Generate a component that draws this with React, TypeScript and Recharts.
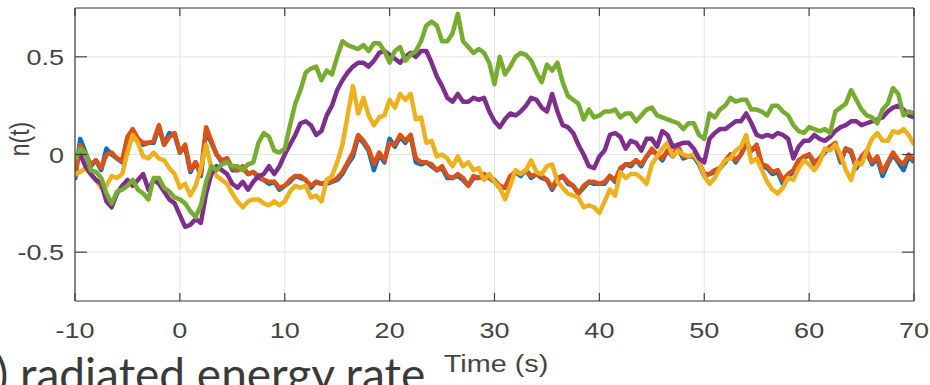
import { CartesianGrid, Line, LineChart, XAxis, YAxis } from "recharts";

// sample grid: -10 s .. 70 s, every 0.5 s
const times = Array.from({ length: 161 }, (_, i) => -10 + i * 0.5);

const xTicks = [-10, 0, 10, 20, 30, 40, 50, 60, 70];
const yTicks = [-0.5, 0, 0.5];

const blue = [
  -0.13, 0.08, 0.01, -0.06, -0.03, -0.08, 0.03, 0.0, -0.02, -0.04,
  0.08, 0.12, 0.08, 0.05, 0.06, 0.06, 0.14, 0.05, 0.11, 0.1,
  0.01, 0.04, -0.09, -0.04, -0.11, 0.12, 0.06, 0.0, -0.04, -0.02,
  -0.08, -0.08, -0.07, -0.1, -0.09, -0.12, -0.13, -0.15, -0.14, -0.18,
  -0.16, -0.14, -0.11, -0.12, -0.13, -0.17, -0.14, -0.15, -0.15, -0.14,
  -0.13, -0.1, -0.05, -0.01, 0.09, 0.06, 0.02, -0.08, 0.0, -0.04,
  0.08, 0.04, 0.09, 0.06, 0.1, -0.04, -0.05, -0.04, -0.06, -0.08,
  -0.07, -0.12, -0.12, -0.11, -0.13, -0.16, -0.12, -0.12, -0.11, -0.12,
  -0.14, -0.17, -0.17, -0.12, -0.09, -0.11, -0.08, -0.12, -0.1, -0.12,
  -0.13, -0.18, -0.13, -0.11, -0.15, -0.16, -0.2, -0.17, -0.14, -0.15,
  -0.15, -0.15, -0.11, -0.14, -0.08, -0.05, -0.06, -0.03, -0.06, -0.01,
  0.02, 0.0, -0.03, 0.02, -0.01, 0.03, -0.02, -0.01, -0.01, -0.05,
  -0.11, -0.1, -0.09, -0.07, -0.04, 0.0, -0.04, 0.0, 0.05, 0.02,
  0.04, -0.06, -0.07, -0.1, -0.09, -0.15, -0.11, -0.09, -0.03, -0.02,
  0.0, -0.05, -0.02, 0.01, 0.04, 0.05, -0.04, 0.03, 0.01, -0.07,
  -0.02, 0.01, -0.05, -0.02, -0.11, -0.05, 0.0, -0.04, -0.08, -0.01,
  -0.04,
];

const orange = [
  -0.12, 0.05, 0.0, -0.05, -0.03, -0.07, 0.0, 0.01, -0.02, -0.03,
  0.09, 0.13, 0.08, 0.06, 0.06, 0.07, 0.15, 0.05, 0.09, 0.11,
  0.01, 0.05, -0.08, -0.04, -0.1, 0.14, 0.07, 0.0, -0.03, -0.02,
  -0.07, -0.08, -0.06, -0.1, -0.09, -0.11, -0.13, -0.14, -0.14, -0.17,
  -0.16, -0.13, -0.11, -0.11, -0.13, -0.16, -0.14, -0.15, -0.14, -0.14,
  -0.12, -0.09, -0.04, 0.01, 0.1, 0.07, 0.03, -0.05, 0.01, -0.03,
  0.06, 0.05, 0.1, 0.07, 0.1, -0.02, -0.04, -0.04, -0.05, -0.08,
  -0.06, -0.11, -0.12, -0.1, -0.12, -0.16, -0.11, -0.12, -0.1, -0.12,
  -0.13, -0.16, -0.17, -0.11, -0.09, -0.1, -0.08, -0.11, -0.1, -0.11,
  -0.13, -0.17, -0.12, -0.11, -0.14, -0.16, -0.2, -0.16, -0.14, -0.14,
  -0.15, -0.14, -0.11, -0.13, -0.07, -0.05, -0.05, -0.03, -0.05, -0.01,
  0.03, 0.0, -0.02, 0.02, 0.0, 0.04, -0.01, -0.01, 0.0, -0.04,
  -0.1, -0.1, -0.08, -0.07, -0.03, 0.0, -0.03, 0.0, 0.06, 0.02,
  0.05, -0.05, -0.06, -0.09, -0.08, -0.13, -0.1, -0.08, -0.03, -0.01,
  0.0, -0.04, -0.02, 0.02, 0.04, 0.06, -0.03, 0.03, 0.02, -0.06,
  -0.01, 0.02, -0.04, -0.01, -0.09, -0.04, 0.01, -0.03, -0.05, 0.0,
  -0.03,
];

const yellow = [
  -0.1, -0.09, -0.07, -0.1, -0.13, -0.17, -0.16, -0.11, -0.12, -0.1,
  0.01, 0.1, 0.06, -0.01, -0.02, 0.01, -0.02, -0.03, -0.07, -0.1,
  -0.17, -0.15, -0.21, -0.16, -0.07, 0.05, -0.07, -0.11, -0.13, -0.15,
  -0.2, -0.24, -0.27, -0.24, -0.23, -0.23, -0.25, -0.26, -0.24, -0.26,
  -0.24, -0.19, -0.16, -0.17, -0.16, -0.22, -0.21, -0.24, -0.13, -0.11,
  -0.04, 0.05, 0.2, 0.35, 0.21, 0.29, 0.2, 0.15, 0.19, 0.2,
  0.28, 0.24, 0.31, 0.28, 0.31, 0.18, 0.19, 0.06, 0.07, -0.01,
  0.0, -0.02, -0.06, -0.01, -0.06, -0.04, -0.08, -0.07, -0.13, -0.1,
  -0.14, -0.17, -0.23, -0.16, -0.08, -0.1, -0.08, -0.03, -0.09, -0.1,
  -0.06, -0.05, -0.14, -0.17, -0.2, -0.21, -0.22, -0.27, -0.26, -0.27,
  -0.3, -0.24, -0.18, -0.21, -0.09, -0.12, -0.1, -0.1, -0.12, -0.15,
  -0.05, -0.01, 0.03, 0.06, -0.01, 0.02, 0.0, -0.01, 0.0, -0.04,
  -0.11, -0.15, -0.12, -0.07, -0.03, -0.02, 0.02, 0.04, 0.1, -0.04,
  -0.02, -0.08, -0.14, -0.18, -0.2, -0.17, -0.12, -0.13, -0.07, -0.03,
  -0.05, -0.08, -0.04, 0.03, 0.02, 0.05, 0.0, -0.08, -0.13, -0.04,
  -0.05, 0.02, 0.08, 0.11, 0.07, 0.07, 0.12, 0.11, 0.13, 0.1,
  0.05,
];

const purple = [
  -0.01, 0.0, -0.06, -0.1, -0.13, -0.15, -0.24, -0.27, -0.2, -0.16,
  -0.13, -0.16, -0.13, -0.1, -0.18, -0.13, -0.15, -0.19, -0.23, -0.25,
  -0.31, -0.37, -0.36, -0.33, -0.35, -0.2, -0.1, -0.06, -0.08, -0.1,
  -0.15, -0.17, -0.14, -0.18, -0.14, -0.11, -0.1, -0.06, -0.1, -0.06,
  0.0, 0.05, 0.1, 0.16, 0.17, 0.15, 0.1, 0.12, 0.2, 0.25,
  0.33, 0.38, 0.42, 0.45, 0.47, 0.47, 0.45, 0.48, 0.52, 0.53,
  0.51, 0.49, 0.47, 0.5, 0.52, 0.5, 0.53, 0.53, 0.47, 0.4,
  0.35, 0.29, 0.27, 0.31, 0.27, 0.27, 0.29, 0.28, 0.29, 0.22,
  0.17, 0.14, 0.18, 0.21, 0.2, 0.22, 0.25, 0.29, 0.28, 0.24,
  0.22, 0.31, 0.22, 0.15, 0.14, 0.11, 0.05, 0.0, -0.06, -0.07,
  -0.01, 0.02, 0.1, 0.11, 0.09, 0.03, 0.07, 0.06, 0.02, 0.08,
  0.08, 0.04, 0.12, 0.1, 0.04, 0.05, 0.06, 0.06, 0.03, -0.02,
  -0.04, 0.08, 0.11, 0.13, 0.13, 0.15, 0.17, 0.17, 0.21, 0.16,
  0.1, 0.09, 0.1, 0.09, 0.11, 0.1, 0.08, -0.02, 0.04, 0.07,
  0.07, 0.1, 0.08, 0.07, 0.09, 0.12, 0.14, 0.15, 0.17, 0.17,
  0.15, 0.16, 0.17, 0.18, 0.19, 0.22, 0.24, 0.25, 0.23, 0.2,
  0.19,
];

const green = [
  -0.03, 0.03, 0.01, -0.08, -0.09, -0.12, -0.2, -0.25, -0.19, -0.18,
  -0.16, -0.13, -0.18, -0.2, -0.23, -0.12, -0.12, -0.17, -0.19, -0.22,
  -0.23, -0.25, -0.29, -0.32, -0.26, -0.14, -0.06, -0.08, -0.05, -0.04,
  -0.06, -0.06, -0.08, -0.05, -0.04, 0.06, 0.11, 0.09, 0.02, 0.01,
  0.03, 0.15, 0.26, 0.33, 0.42, 0.44, 0.45, 0.38, 0.43, 0.41,
  0.5, 0.58, 0.56, 0.55, 0.54, 0.56, 0.53, 0.57, 0.57, 0.53,
  0.47, 0.53, 0.55, 0.48, 0.51, 0.53, 0.58, 0.66, 0.68, 0.66,
  0.58, 0.58, 0.62, 0.72, 0.58, 0.55, 0.52, 0.54, 0.52, 0.47,
  0.36, 0.5, 0.41, 0.45, 0.5, 0.52, 0.51, 0.48, 0.42, 0.37,
  0.46, 0.43, 0.47, 0.37, 0.3, 0.28, 0.26, 0.18, 0.23, 0.19,
  0.2, 0.22, 0.22, 0.23, 0.19, 0.21, 0.21, 0.17, 0.2, 0.23,
  0.24, 0.2, 0.19, 0.18, 0.17, 0.16, 0.13, 0.16, 0.16, 0.1,
  0.08, 0.21, 0.19, 0.23, 0.25, 0.29, 0.27, 0.28, 0.28, 0.23,
  0.23, 0.22, 0.2, 0.25, 0.25, 0.22, 0.2, 0.15, 0.12, 0.11,
  0.14, 0.13, 0.12, 0.13, 0.11, 0.22, 0.24, 0.26, 0.33, 0.28,
  0.23, 0.2, 0.19, 0.16, 0.23, 0.26, 0.34, 0.31, 0.2, 0.22,
  0.21,
];

const data = times.map((t, i) => ({
  t,
  blue: blue[i],
  orange: orange[i],
  yellow: yellow[i],
  purple: purple[i],
  green: green[i],
}));

const series = [
  { key: "blue", color: "#0072BD" },
  { key: "orange", color: "#D95319" },
  { key: "yellow", color: "#EDB120" },
  { key: "purple", color: "#7E2F8E" },
  { key: "green", color: "#77AC30" },
];

const axisColor = "#404040";
const textColor = "#444";
const tickFont = "'Liberation Sans', Arial, sans-serif";

function BottomTick({ x, y, payload }: any) {
  return (
    <g>
      <line x1={x} y1={y} x2={x} y2={y - 8} stroke={axisColor} strokeWidth={1.2} />
      <text
        transform={`translate(${x},${y + 37}) scale(1.2,1)`}
        textAnchor="middle"
        fill={textColor}
        fontSize={22.5}
        fontFamily={tickFont}
      >
        {String(payload.value)}
      </text>
    </g>
  );
}

function TopTick({ x, y }: any) {
  return <line x1={x} y1={y} x2={x} y2={y + 8} stroke={axisColor} strokeWidth={1.2} />;
}

function LeftTick({ x, y, payload }: any) {
  return (
    <g>
      <line x1={x} y1={y} x2={x + 12} y2={y} stroke={axisColor} strokeWidth={1.2} />
      <text
        transform={`translate(${x - 11},${y + 8}) scale(1.2,1)`}
        textAnchor="end"
        fill={textColor}
        fontSize={22.5}
        fontFamily={tickFont}
      >
        {String(payload.value)}
      </text>
    </g>
  );
}

function RightTick({ x, y }: any) {
  return <line x1={x} y1={y} x2={x - 12} y2={y} stroke={axisColor} strokeWidth={1.2} />;
}

export default function App() {
  return (
    <div style={{ position: "fixed", left: 0, top: 0, width: 930, height: 385, background: "#fff", overflow: "hidden" }}>
      <LineChart width={930} height={385} data={data} margin={{ top: 0, right: 0, bottom: 0, left: 0 }}>
        <CartesianGrid stroke="#e3e3e3" strokeWidth={1} />
        <XAxis
          dataKey="t"
          type="number"
          domain={[-10, 70]}
          ticks={xTicks}
          height={84}
          tickSize={0}
          tickMargin={0}
          tickLine={false}
          axisLine={{ stroke: axisColor, strokeWidth: 1.2 }}
          tick={<BottomTick />}
          allowDataOverflow
        />
        <XAxis
          xAxisId="top"
          orientation="top"
          dataKey="t"
          type="number"
          domain={[-10, 70]}
          ticks={xTicks}
          height={8}
          tickSize={0}
          tickMargin={0}
          tickLine={false}
          axisLine={{ stroke: axisColor, strokeWidth: 1.2 }}
          tick={<TopTick />}
          allowDataOverflow
        />
        <YAxis
          type="number"
          domain={[-0.75, 0.75]}
          ticks={yTicks}
          width={75}
          tickSize={0}
          tickMargin={0}
          tickLine={false}
          axisLine={{ stroke: axisColor, strokeWidth: 1.2 }}
          tick={<LeftTick />}
          allowDataOverflow
        />
        <YAxis
          yAxisId="right"
          orientation="right"
          type="number"
          domain={[-0.75, 0.75]}
          ticks={yTicks}
          width={16}
          tickSize={0}
          tickMargin={0}
          tickLine={false}
          axisLine={{ stroke: axisColor, strokeWidth: 1.2 }}
          tick={<RightTick />}
          allowDataOverflow
        />
        {series.map((s) => (
          <Line
            key={s.key}
            dataKey={s.key}
            type="linear"
            stroke={s.color}
            strokeWidth={4.5}
            strokeLinejoin="round"
            dot={false}
            activeDot={false}
            isAnimationActive={false}
          />
        ))}
      </LineChart>
      <svg width={930} height={385} style={{ position: "absolute", left: 0, top: 0, pointerEvents: "none" }}>
        <text
          transform="translate(29,139) scale(1.2,1) rotate(-90)"
          textAnchor="middle"
          fill={textColor}
          fontSize={23}
          fontFamily={tickFont}
        >
          n(t)
        </text>
        <text
          transform="translate(496,372) scale(1.2,1)"
          textAnchor="middle"
          fill={textColor}
          fontSize={24}
          fontFamily={tickFont}
        >
          Time (s)
        </text>
        <text x={-4} y={391} fill="#3a3a3a" fontSize={46} fontFamily="Lato, 'Open Sans', sans-serif">
          ) radiated energy rate
        </text>
      </svg>
    </div>
  );
}
